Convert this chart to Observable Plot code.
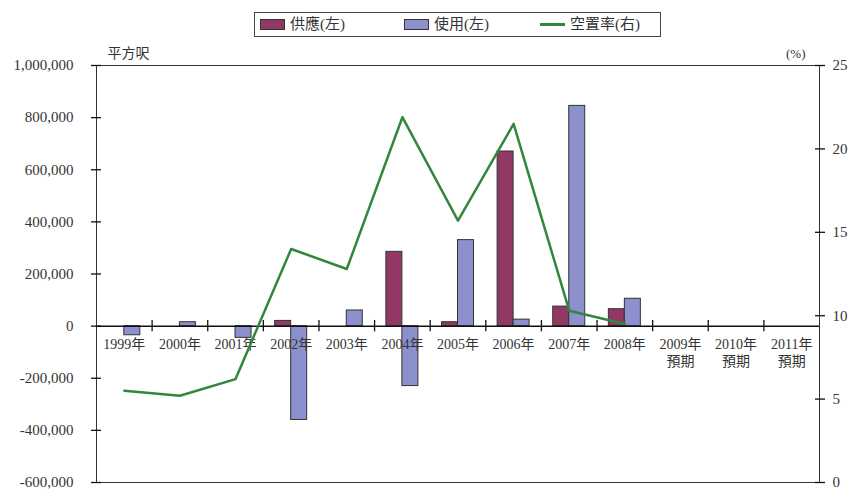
<!DOCTYPE html>
<html>
<head>
<meta charset="utf-8">
<script src="https://cdn.jsdelivr.net/npm/d3@7"></script>
<script src="https://cdn.jsdelivr.net/npm/@observablehq/plot@0.6"></script>
<style>
  body { margin: 0; background: #fff; }
  #wrap { position: relative; width: 848px; height: 490px; font-family: 'Liberation Serif', 'Noto Sans CJK TC', serif; color: #333; }
  #legend { position: absolute; left: 254px; top: 12px; width: 405px; height: 23px; border: 1px solid #444; background: #fff; font-size: 15px; }
  #legend .it { position: absolute; top: 2px; height: 18px; line-height: 18px; white-space: nowrap; }
  #legend .sw { display: inline-block; width: 23px; height: 9px; border: 1px solid #333; vertical-align: middle; margin-right: 5px; margin-top: -3px; }
  #legend .ln { display: inline-block; width: 25px; height: 3px; vertical-align: middle; margin-right: 5px; margin-top: -3px; }
  #chart { position: absolute; left: 0; top: 0; }
</style>
</head>
<body>
<div id="wrap">
  <div id="chart"></div>
  <div id="legend"></div>
</div>
<script>
const categories = ["1999年","2000年","2001年","2002年","2003年","2004年","2005年","2006年","2007年","2008年","2009年\n預期","2010年\n預期","2011年\n預期"];
const supply = [0, 0, 0, 20000, 0, 285000, 15000, 670000, 75000, 65000, null, null, null];
const usage = [-35000, 15000, -45000, -360000, 60000, -230000, 330000, 25000, 845000, 105000, null, null, null];
const vacancy = [5.5, 5.2, 6.2, 14.0, 12.8, 21.9, 15.7, 21.5, 10.3, 9.5, null, null, null];
const leftTicks = [-600000, -400000, -200000, 0, 200000, 400000, 600000, 800000, 1000000];
const rightTicks = [0, 5, 10, 15, 20, 25];
const seriesNames = ["供應(左)", "使用(左)", "空置率(右)"];
const colors = ["#923865", "#8c90cd", "#32873f"];

const yMin = -600000, yMax = 1000000, pMax = 25;
const toY = p => yMin + p * (yMax - yMin) / pMax;

const supplyData = categories.map((c, i) => ({c, v: supply[i]})).filter(d => d.v != null && d.v !== 0);
const usageData = categories.map((c, i) => ({c, v: usage[i]})).filter(d => d.v != null);
const vacData = categories.map((c, i) => ({c, v: vacancy[i]})).filter(d => d.v != null);

const W = 848, ML = 96, MR = 29;
const bw = (W - ML - MR) / categories.length;
const barW = 16;
const tickHalf = 22000; // half-length of the category ticks on the zero line, in axis units
const tickData = categories.slice(1).map(c => ({c, lo: -tickHalf, hi: tickHalf}));

const chart = Plot.plot({
  width: W, height: 490,
  marginLeft: ML, marginRight: MR, marginTop: 65, marginBottom: 8,
  style: {fontFamily: "'Liberation Serif', 'Noto Sans CJK TC', serif", fontSize: "15px", color: "#333", background: "transparent"},
  x: {domain: categories, padding: 0, round: false, axis: null},
  y: {domain: [yMin, yMax], axis: null},
  marks: [
    Plot.frame({stroke: "#333", strokeWidth: 1}),
    Plot.barY(supplyData, {x: "c", y: "v", fill: colors[0], stroke: "#333", strokeWidth: 1, insetLeft: bw/2 - barW, insetRight: bw/2}),
    Plot.barY(usageData, {x: "c", y: "v", fill: colors[1], stroke: "#333", strokeWidth: 1, insetLeft: bw/2, insetRight: bw/2 - barW}),
    Plot.ruleY([0], {stroke: "#111", strokeWidth: 1.5}),
    Plot.ruleX(tickData, {x: "c", dx: -bw/2, y1: "lo", y2: "hi", stroke: "#111", strokeWidth: 1.3}),
    Plot.text(categories, {x: d => d, y: 0, dy: 11, text: d => d, fontSize: 14, fill: "#333", lineAnchor: "top", lineHeight: 1.2}),
    Plot.line(vacData, {x: "c", y: d => toY(d.v), stroke: colors[2], strokeWidth: 2.5}),
    Plot.axisY({anchor: "left", ticks: leftTicks, tickSize: 10, dx: 5, tickFormat: () => "", stroke: "#111", strokeWidth: 1.3, label: null}),
    Plot.axisY({anchor: "left", ticks: leftTicks, tickSize: 0, tickPadding: 23, tickFormat: d => d.toLocaleString("en-US"), label: null, fill: "#333"}),
    Plot.axisY({anchor: "right", ticks: rightTicks.map(toY), tickSize: 10, dx: -5, tickFormat: () => "", stroke: "#111", strokeWidth: 1.3, label: null}),
    Plot.axisY({anchor: "right", ticks: rightTicks.map(toY), tickSize: 0, tickPadding: 13, tickFormat: d => String(Math.round((d - yMin) * pMax / (yMax - yMin))), label: null, fill: "#333"}),
    Plot.text(["平方呎"], {frameAnchor: "top-left", dx: 11, dy: -17, text: d => d, fontSize: 14, fill: "#333", textAnchor: "start"}),
    Plot.text(["(%)"], {frameAnchor: "top-right", dx: -14, dy: -17, text: d => d, fontSize: 13, fill: "#333"})
  ]
});
document.getElementById("chart").appendChild(chart);

const legend = document.getElementById("legend");
const items = [
  {name: seriesNames[0], type: "sw", color: colors[0], left: 5},
  {name: seriesNames[1], type: "sw", color: colors[1], left: 149},
  {name: seriesNames[2], type: "ln", color: colors[2], left: 285}
];
for (const it of items) {
  const d = document.createElement("div");
  d.className = "it";
  d.style.left = it.left + "px";
  const s = document.createElement("span");
  s.className = it.type;
  s.style.background = it.color;
  d.appendChild(s);
  d.appendChild(document.createTextNode(it.name));
  legend.appendChild(d);
}
</script>
</body>
</html>
